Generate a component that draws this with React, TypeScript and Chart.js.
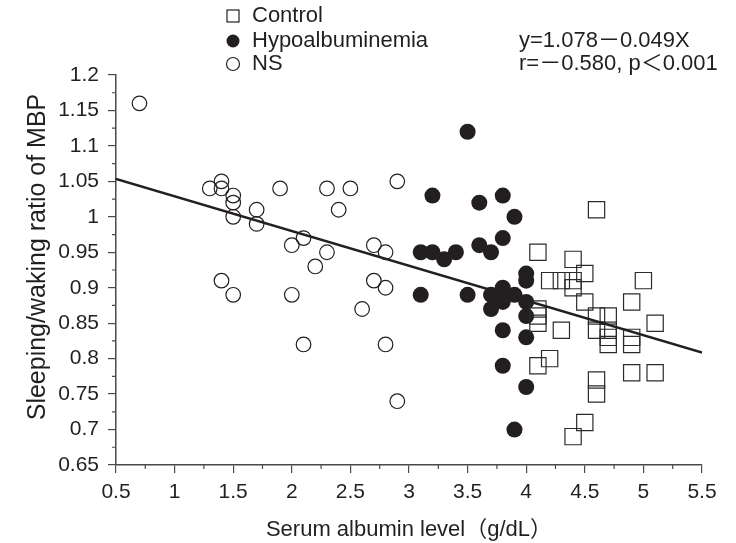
import React, { useEffect, useRef } from 'react';
import { Chart, registerables } from 'chart.js';

Chart.register(...registerables);

// ---- data ----
const controlX = [4.1, 4.4, 4.5, 4.2, 4.3, 4.4, 4.4, 4.5, 4.1, 4.1, 4.1, 4.3, 4.6, 4.6, 4.7, 4.7, 4.7, 4.7, 5.0, 4.9, 5.1, 4.9, 4.9, 4.1, 4.2, 4.6, 4.6, 4.9, 5.1, 4.5, 4.4, 4.6];
const controlY = [0.95, 0.94, 0.92, 0.91, 0.91, 0.91, 0.90, 0.88, 0.87, 0.86, 0.85, 0.84, 0.86, 0.84, 0.86, 0.84, 0.83, 0.82, 0.91, 0.88, 0.85, 0.83, 0.82, 0.79, 0.80, 0.77, 0.75, 0.78, 0.78, 0.71, 0.69, 1.01];

const hypoX = [3.1, 3.1, 3.2, 3.3, 3.4, 3.2, 3.5, 3.5, 3.6, 3.6, 3.7, 3.8, 3.8, 3.9, 3.7, 3.7, 3.8, 3.8, 3.9, 4.0, 4.0, 4.0, 4.0, 3.8, 4.0, 3.8, 4.0, 3.9];
const hypoY = [0.89, 0.95, 0.95, 0.94, 0.95, 1.03, 1.12, 0.89, 1.02, 0.96, 0.95, 1.03, 0.97, 1.0, 0.89, 0.87, 0.90, 0.88, 0.89, 0.92, 0.91, 0.88, 0.86, 0.84, 0.83, 0.79, 0.76, 0.70];

const nsX = [0.7, 1.4, 1.3, 1.4, 1.5, 1.5, 1.5, 1.7, 1.7, 1.9, 2.3, 2.5, 2.4, 2.9, 2.1, 2.0, 2.3, 2.2, 2.7, 2.8, 1.4, 1.5, 2.0, 2.7, 2.8, 2.6, 2.1, 2.8, 2.9];
const nsY = [1.16, 1.05, 1.04, 1.04, 1.03, 1.02, 1.0, 1.01, 0.99, 1.04, 1.04, 1.04, 1.01, 1.05, 0.97, 0.96, 0.95, 0.93, 0.96, 0.95, 0.91, 0.89, 0.89, 0.91, 0.90, 0.87, 0.82, 0.82, 0.74];

// regression line y = 1.078 - 0.049x, drawn across the axis range
const regressionX = [0.5, 5.5];
const regressionY = [1.0535, 0.8085];

const xTicks = [0.5, 1, 1.5, 2, 2.5, 3, 3.5, 4, 4.5, 5, 5.5];
const yTicks = [0.65, 0.7, 0.75, 0.8, 0.85, 0.9, 0.95, 1, 1.05, 1.1, 1.15, 1.2];

const legendLabels = ['Control', 'Hypoalbuminemia', 'NS'];
const equationLines = ['y=1.078－0.049X', 'r=－0.580, p＜0.001'];
const xTitle = 'Serum albumin level（g/dL）';
const yTitle = 'Sleeping/waking ratio of MBP';

const INK = '#231f20';
const AXIS = '#4a4a4a';
const FONT = "'Liberation Sans', Arial, 'Noto Sans CJK JP', sans-serif";

const pts = (xs: number[], ys: number[]) => xs.map((x, i) => ({ x, y: ys[i] }));

const extrasPlugin = {
  id: 'extras',
  afterDraw(chart: any) {
    const ctx = chart.ctx as CanvasRenderingContext2D;
    const xs = chart.scales.x;
    const ys = chart.scales.y;
    ctx.save();
    // minor ticks
    ctx.strokeStyle = AXIS;
    ctx.lineWidth = 1.2;
    ctx.beginPath();
    for (let i = 0; i < xTicks.length - 1; i++) {
      const px = xs.getPixelForValue((xTicks[i] + xTicks[i + 1]) / 2);
      ctx.moveTo(px, xs.top);
      ctx.lineTo(px, xs.top + 4);
    }
    for (let i = 0; i < yTicks.length - 1; i++) {
      const py = ys.getPixelForValue((yTicks[i] + yTicks[i + 1]) / 2);
      ctx.moveTo(ys.right - 4, py);
      ctx.lineTo(ys.right, py);
    }
    ctx.stroke();

    // y axis title
    ctx.fillStyle = INK;
    ctx.font = `25px ${FONT}`;
    ctx.textAlign = 'center';
    ctx.textBaseline = 'middle';
    ctx.save();
    ctx.translate(38, 257);
    ctx.rotate(-Math.PI / 2);
    ctx.fillText(yTitle, 0, 0);
    ctx.restore();

    // legend
    const rows = [16, 41, 64];
    const sx = 233;
    ctx.lineWidth = 1.2;
    ctx.strokeStyle = INK;
    ctx.strokeRect(sx - 6, rows[0] - 6, 12, 12);
    ctx.beginPath();
    ctx.arc(sx, rows[1], 6.5, 0, Math.PI * 2);
    ctx.fillStyle = INK;
    ctx.fill();
    ctx.beginPath();
    ctx.arc(sx, rows[2], 6.5, 0, Math.PI * 2);
    ctx.stroke();
    ctx.font = `22px ${FONT}`;
    ctx.textAlign = 'left';
    ctx.textBaseline = 'middle';
    legendLabels.forEach((t, i) => ctx.fillText(t, 252, rows[i]));
    equationLines.forEach((t, i) => ctx.fillText(t, 519, rows[i + 1]));
    ctx.restore();
  },
};

export default function App() {
  const ref = useRef<HTMLCanvasElement>(null);
  useEffect(() => {
    if (!ref.current) return;
    Chart.defaults.font.family = FONT;
    const chart = new Chart(ref.current, {
      type: 'scatter',
      data: {
        datasets: [
          {
            type: 'line',
            label: 'regression',
            data: pts(regressionX, regressionY),
            borderColor: INK,
            borderWidth: 2.5,
            pointRadius: 0,
            showLine: true,
            fill: false,
          } as any,
          {
            label: 'Control',
            data: pts(controlX, controlY),
            pointStyle: 'rect',
            pointRadius: 11.5,
            borderColor: '#2b2b2b',
            borderWidth: 1.2,
            backgroundColor: 'rgba(0,0,0,0)',
          },
          {
            label: 'Hypoalbuminemia',
            data: pts(hypoX, hypoY),
            pointStyle: 'circle',
            pointRadius: 8,
            borderColor: INK,
            borderWidth: 0,
            backgroundColor: INK,
          },
          {
            label: 'NS',
            data: pts(nsX, nsY),
            pointStyle: 'circle',
            pointRadius: 7.3,
            borderColor: INK,
            borderWidth: 1.2,
            backgroundColor: 'rgba(0,0,0,0)',
          },
        ],
      },
      options: {
        animation: false,
        responsive: false,
        devicePixelRatio: 1,
        layout: { padding: { left: 0, top: 75, right: 34, bottom: 0 } },
        plugins: { legend: { display: false }, tooltip: { enabled: false } },
        scales: {
          x: {
            type: 'linear',
            min: 0.5,
            max: 5.5,
            afterBuildTicks: (s: any) => {
              s.ticks = xTicks.map((v) => ({ value: v }));
            },
            afterFit: (s: any) => {
              s.height = 78;
            },
            ticks: {
              color: INK,
              font: { size: 21 },
              padding: 7,
              maxRotation: 0,
              autoSkip: false,
              callback: (v: any) => String(v),
            },
            grid: { display: true, drawOnChartArea: false, drawTicks: true, tickLength: 8, color: AXIS, lineWidth: 1.2 },
            border: { display: true, color: AXIS, width: 1.5 },
            title: { display: true, text: xTitle, color: INK, font: { size: 22 }, padding: { top: 0, bottom: 0 } },
          },
          y: {
            type: 'linear',
            min: 0.65,
            max: 1.2,
            afterBuildTicks: (s: any) => {
              s.ticks = yTicks.map((v) => ({ value: v }));
            },
            afterFit: (s: any) => {
              s.width = 116;
            },
            ticks: {
              color: INK,
              font: { size: 21 },
              padding: 9,
              autoSkip: false,
              callback: (v: any) => String(v),
            },
            grid: { display: true, drawOnChartArea: false, drawTicks: true, tickLength: 8, color: AXIS, lineWidth: 1.2 },
            border: { display: true, color: AXIS, width: 1.5 },
          },
        },
      },
      plugins: [extrasPlugin],
    });
    return () => chart.destroy();
  }, []);

  return (
    <div style={{ position: 'absolute', left: 0, top: 0, width: 736, height: 543, background: '#fff' }}>
      <canvas ref={ref} width={736} height={543} style={{ width: 736, height: 543, display: 'block' }} />
    </div>
  );
}
